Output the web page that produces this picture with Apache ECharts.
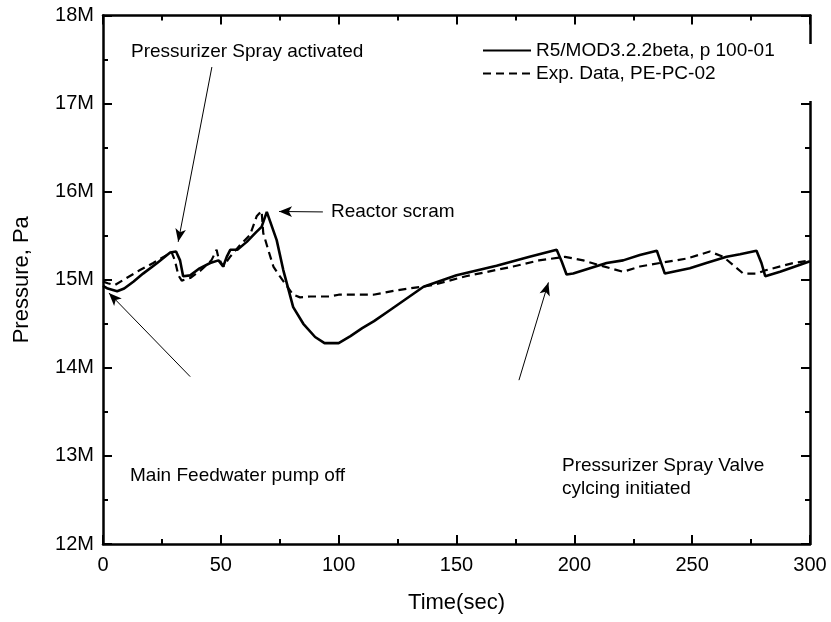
<!DOCTYPE html>
<html><head><meta charset="utf-8">
<script src="https://cdn.jsdelivr.net/npm/echarts@6/dist/echarts.min.js"></script>
<style>html,body{margin:0;padding:0;background:#fff}#c{width:831px;height:622px}</style>
</head><body><div id="c"></div>
<script>
const seriesNames = ['R5/MOD3.2.2beta, p 100-01', 'Exp. Data, PE-PC-02'];
const r5Time = [0, 2, 6, 9, 13, 17, 23, 28.5, 31, 32.7, 34, 37, 41, 45.5, 49, 51, 52.5, 54, 57, 61, 65, 67.3, 69.5, 73.7, 76.5, 80.7, 85, 90, 94, 100, 105, 110, 115, 122, 136, 150, 167, 181, 188, 192.5, 194.6, 196.7, 199.5, 206.6, 213.7, 220.7, 227.8, 235, 235.6, 238.4, 239.1, 249, 256, 264.6, 270.3, 277.3, 279.4, 281, 287.3, 295.8, 300];
const r5Pressure = [14.93, 14.90, 14.87, 14.90, 14.98, 15.07, 15.19, 15.31, 15.32, 15.22, 15.04, 15.05, 15.13, 15.19, 15.22, 15.15, 15.26, 15.34, 15.34, 15.43, 15.54, 15.60, 15.77, 15.45, 15.11, 14.69, 14.50, 14.35, 14.28, 14.28, 14.36, 14.45, 14.53, 14.66, 14.92, 15.05, 15.16, 15.26, 15.31, 15.34, 15.21, 15.06, 15.07, 15.13, 15.19, 15.22, 15.28, 15.33, 15.33, 15.07, 15.06, 15.13, 15.19, 15.26, 15.29, 15.33, 15.19, 15.04, 15.09, 15.17, 15.21];
const expTime = [0, 2, 5, 10, 15.7, 21.3, 27, 29, 30.5, 32, 33.4, 37, 41.2, 46, 48.2, 49, 51, 53.9, 58, 62.4, 65.2, 67.3, 68, 70.1, 72.3, 75, 80.7, 83.6, 88, 96, 100, 114.7, 124.6, 140, 154, 174, 185, 196, 203.8, 210, 220.7, 227.8, 236.3, 247.6, 257.5, 263.2, 271.7, 277.3, 281.5, 292.9, 300];
const expPressure = [14.98, 14.96, 14.94, 15.02, 15.11, 15.19, 15.28, 15.32, 15.22, 15.05, 14.99, 15.02, 15.10, 15.22, 15.34, 15.25, 15.15, 15.26, 15.39, 15.51, 15.72, 15.78, 15.53, 15.34, 15.15, 15.04, 14.83, 14.80, 14.81, 14.81, 14.83, 14.83, 14.88, 14.94, 15.04, 15.15, 15.22, 15.26, 15.22, 15.17, 15.09, 15.15, 15.19, 15.24, 15.32, 15.26, 15.07, 15.07, 15.11, 15.19, 15.22];
const annotations = [
  {text: 'Pressurizer Spray activated', from: [46.2, 17.415], to: [31.9, 15.43], label: [131, 51]},
  {text: 'Reactor scram', from: [93.3, 15.77], to: [74.7, 15.775], label: [331, 211]},
  {text: 'Main Feedwater pump off', from: [37, 13.9], to: [2.5, 14.85], label: [130, 475]},
  {text: 'Pressurizer Spray Valve\ncylcing initiated', from: [176.5, 13.86], to: [189, 14.97], label: [562, 477]}
];

const FONT = 'Arial, "Liberation Sans", sans-serif';
const chart = echarts.init(document.getElementById('c'));
const axisLineStyle = {color: '#000', width: 2.5};
function xAx(bottom) {
  return {
    type: 'value', min: 0, max: 300, interval: 50, position: bottom ? 'bottom' : 'top',
    axisLine: {show: true, onZero: false, lineStyle: axisLineStyle},
    axisTick: {show: true, inside: true, length: 9, lineStyle: {color: '#000', width: 2}},
    minorTick: {show: true, splitNumber: 2, length: 5, lineStyle: {color: '#000', width: 2}},
    splitLine: {show: false},
    axisLabel: {show: bottom, fontSize: 20, color: '#000', fontFamily: FONT, margin: 11},
    name: bottom ? 'Time(sec)' : '', nameLocation: 'middle', nameGap: 48,
    nameTextStyle: {fontSize: 22, color: '#000', fontFamily: FONT}
  };
}
function yAx(left) {
  return {
    type: 'value', min: 12, max: 18, interval: 1, position: left ? 'left' : 'right',
    axisLine: {show: true, onZero: false, lineStyle: axisLineStyle},
    axisTick: {show: true, inside: true, length: 9, lineStyle: {color: '#000', width: 2}},
    minorTick: {show: true, splitNumber: 2, length: 5, lineStyle: {color: '#000', width: 2}},
    splitLine: {show: false},
    axisLabel: {show: left, fontSize: 20, color: '#000', fontFamily: FONT, margin: 9, formatter: v => v + 'M'},
    name: left ? 'Pressure, Pa' : '', nameLocation: 'middle', nameGap: 70,
    nameTextStyle: {fontSize: 22, color: '#000', fontFamily: FONT}
  };
}
const zip = (a, b) => a.map((t, i) => [t, b[i]]);
chart.setOption({
  animation: false,
  backgroundColor: '#fff',
  grid: {left: 103, right: 21, top: 15.5, bottom: 78, containLabel: false},
  xAxis: [xAx(true), xAx(false)],
  yAxis: [yAx(true), yAx(false)],
  legend: {
    data: seriesNames, orient: 'vertical', left: 480, top: 39, itemWidth: 48, itemHeight: 14, itemGap: 4,
    itemStyle: {opacity: 0},
    textStyle: {fontSize: 19, color: '#000', fontFamily: FONT}, padding: 2
  },
  series: [
    {
      name: seriesNames[0], type: 'line', data: zip(r5Time, r5Pressure), symbol: 'none',
      lineStyle: {color: '#000', width: 2.6}, itemStyle: {color: '#000'},
      markLine: {
        silent: true, symbol: ['none', 'arrow'], symbolSize: [8, 13],
        lineStyle: {color: '#000', width: 1, type: 'solid'}, label: {show: false},
        data: annotations.map(a => [{coord: a.from}, {coord: a.to}])
      }
    },
    {
      name: seriesNames[1], type: 'line', data: zip(expTime, expPressure), symbol: 'none',
      lineStyle: {color: '#000', width: 2.2, type: [8, 5]}, itemStyle: {color: '#000'}
    }
  ],
  graphic: [
    {type: 'rect', z: 3, shape: {x: 470, y: 44, width: 345, height: 57}, style: {fill: '#fff'}}
  ].concat(annotations.map(a => ({
    type: 'text', left: a.label[0], top: a.label[1] - (a.text.includes('\n') ? 23 : 11),
    style: {text: a.text, font: '19px ' + FONT, fill: '#000', lineHeight: 23}
  })))
});
</script></body></html>
